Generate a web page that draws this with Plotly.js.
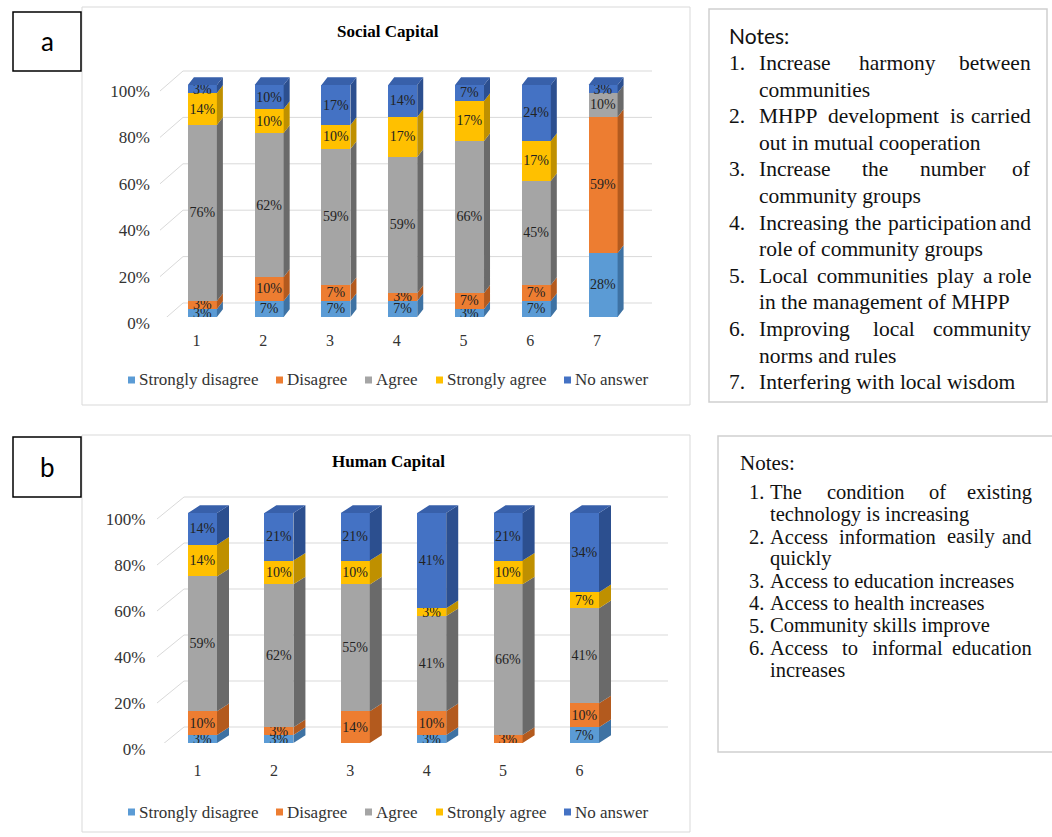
<!DOCTYPE html>
<html><head><meta charset="utf-8">
<script src="https://cdn.plot.ly/plotly-3.0.1.min.js"></script>
<style>html,body{margin:0;padding:0;background:#fff}#chart{width:1052px;height:837px}</style>
</head><body><div id="chart"></div>
<script>
// ---------------- DATA ----------------
const seriesNames = ['Strongly disagree', 'Disagree', 'Agree', 'Strongly agree', 'No answer'];
const yTickVals = [0, 20, 40, 60, 80, 100];
const yTickText = ['0%', '20%', '40%', '60%', '80%', '100%'];

const socialTitle = 'Social Capital';
const socialCats = [1, 2, 3, 4, 5, 6, 7];
const socialSD = [3.45, 6.90, 6.90, 6.90, 3.45, 6.90, 27.59];
const socialD  = [3.45, 10.34, 6.90, 3.45, 6.90, 6.90, 58.62];
const socialA  = [75.86, 62.07, 58.62, 58.62, 65.52, 44.83, 10.34];
const socialSA = [13.79, 10.34, 10.34, 17.24, 17.24, 17.24, 0];
const socialNA = [3.45, 10.34, 17.24, 13.79, 6.90, 24.14, 3.45];

const humanTitle = 'Human Capital';
const humanCats = [1, 2, 3, 4, 5, 6];
const humanSD = [3.45, 3.45, 0, 3.45, 0, 6.90];
const humanD  = [10.34, 3.45, 13.79, 10.34, 3.45, 10.34];
const humanA  = [58.62, 62.07, 55.17, 41.38, 65.52, 41.38];
const humanSA = [13.79, 10.34, 10.34, 3.45, 10.34, 6.90];
const humanNA = [13.79, 20.69, 20.69, 41.38, 20.69, 34.48];

// each note: number, first line, continuation line (or null)
const socialNotes = [
  ['1.', 'Increase harmony between', 'communities'],
  ['2.', 'MHPP development is carried', 'out in mutual cooperation'],
  ['3.', 'Increase the number of', 'community groups'],
  ['4.', 'Increasing the participation and', 'role of community groups'],
  ['5.', 'Local communities play a role', 'in the management of MHPP'],
  ['6.', 'Improving local community', 'norms and rules'],
  ['7.', 'Interfering with local wisdom', null]
];
const humanNotes = [
  ['1.', 'The condition of existing', 'technology is increasing'],
  ['2.', 'Access information easily and', 'quickly'],
  ['3.', 'Access to education increases', null],
  ['4.', 'Access to health increases', null],
  ['5.', 'Community skills improve', null],
  ['6.', 'Access to informal education', 'increases']
];

// ---------------- STYLE ----------------
const W = 1052, H = 837;
const px = x => x / W;
const py = y => 1 - y / H;
const SERIF = 'Liberation Serif, Times New Roman, serif';
const frontCol = ['#5B9BD5', '#ED7D31', '#A5A5A5', '#FFC000', '#4472C4'];
const sideCol  = ['#3E72A3', '#B35A1E', '#6A6A6A', '#BF9000', '#2C4F8F'];
const topCol   = ['#4A86BE', '#D06A26', '#8C8C8C', '#DDA600', '#3860AA'];

const panels = [
  {title: socialTitle, cats: socialCats, vals: [socialSD, socialD, socialA, socialSA, socialNA],
   xa: 'x', ya: 'y', left: 169, right: 636.5, y0px: 317, y100px: 85, barW: 0.434, sidePx: 6, topPx: 7.7,
   gridFrontX: 160, gridBackX: 183, gridRight: 652, gridDown: 6, gridUp: 14, titleY: 32,
   xShift: -6, xStand: 12, legendY: 380},
  {title: humanTitle, cats: humanCats, vals: [humanSD, humanD, humanA, humanSA, humanNA],
   xa: 'x2', ya: 'y2', left: 164.3, right: 622.7, y0px: 743, y100px: 513, barW: 0.38, sidePx: 12, topPx: 7.7,
   gridFrontX: 157, gridBackX: 184, gridRight: 668, gridDown: 6, gridUp: 16, titleY: 461,
   xShift: -5, xStand: 16, legendY: 812}
];

const traces = [];
const shapes = [];
const annotations = [];
const layout = {
  width: W, height: H, margin: {l: 0, r: 0, t: 0, b: 0},
  paper_bgcolor: '#fff', plot_bgcolor: 'rgba(0,0,0,0)',
  barmode: 'stack', bargap: 0, showlegend: false,
  font: {family: SERIF, color: '#333'},
  shapes: shapes, annotations: annotations
};

panels.forEach((p, pi) => {
  const n = p.cats.length;
  const ppuY = (p.y0px - p.y100px) / 100;
  const yMax = 110;
  const dx = p.sidePx * n / (p.right - p.left);
  const dy = p.topPx / ppuY;
  const axX = pi === 0 ? 'xaxis' : 'xaxis2';
  const axY = pi === 0 ? 'yaxis' : 'yaxis2';
  layout[axX] = {
    domain: [px(p.left), px(p.right)], range: [0.5, n + 0.5], anchor: p.ya,
    showgrid: false, zeroline: false, showline: false, ticks: '',
    tickvals: p.cats, ticktext: p.cats.map(String),
    tickfont: {family: SERIF, size: 16, color: '#333'},
    ticklabelshift: p.xShift, ticklabelstandoff: p.xStand, fixedrange: true
  };
  layout[axY] = {
    domain: [py(p.y0px), py(p.y0px - yMax * ppuY)], range: [0, yMax], anchor: p.xa,
    showgrid: false, zeroline: false, showline: false, ticks: '',
    tickvals: yTickVals, ticktext: yTickText,
    tickfont: {family: SERIF, size: 17, color: '#333'},
    ticklabelshift: p.gridDown, ticklabelstandoff: 18, fixedrange: true
  };

  // front faces (stacked bars)
  p.vals.forEach((v, si) => {
    traces.push({
      type: 'bar', x: p.cats, y: v, xaxis: p.xa, yaxis: p.ya, name: seriesNames[si],
      width: p.barW, marker: {color: frontCol[si], line: {width: 0}},
      text: v.map(d => d > 0 ? Math.round(d) + '%' : ''),
      textposition: 'inside', insidetextanchor: 'middle', textangle: 0,
      constraintext: 'none', textfont: {family: SERIF, size: 14, color: '#222'},
      hoverinfo: 'skip', showlegend: false
    });
  });

  // side faces and top faces (pseudo 3D)
  const base = p.cats.map(() => 0);
  p.vals.forEach((v, si) => {
    const xs = [], ys = [];
    p.cats.forEach((c, i) => {
      if (v[i] <= 0) return;
      const xr = c + p.barW / 2, b = base[i], t = base[i] + v[i];
      xs.push(xr, xr + dx, xr + dx, xr, xr, null);
      ys.push(b, b + dy, t + dy, t, b, null);
      base[i] = t;
    });
    traces.push({type: 'scatter', mode: 'lines', x: xs, y: ys, xaxis: p.xa, yaxis: p.ya,
      fill: 'toself', fillcolor: sideCol[si], line: {width: 0, color: sideCol[si]},
      hoverinfo: 'skip', showlegend: false});
  });
  const txs = [], tys = [];
  p.cats.forEach((c, i) => {
    const xl = c - p.barW / 2, xr = c + p.barW / 2, t = base[i];
    txs.push(xl, xl + dx, xr + dx, xr, xl, null);
    tys.push(t, t + dy, t + dy, t, t, null);
  });
  traces.push({type: 'scatter', mode: 'lines', x: txs, y: tys, xaxis: p.xa, yaxis: p.ya,
    fill: 'toself', fillcolor: topCol[4], line: {width: 0, color: topCol[4]},
    hoverinfo: 'skip', showlegend: false});

  // back-wall gridlines and floor diagonals
  yTickVals.forEach(v => {
    shapes.push({type: 'line', layer: 'below', xref: 'paper', yref: p.ya, ysizemode: 'pixel', yanchor: v,
      x0: px(p.gridBackX), x1: px(p.gridRight), y0: p.gridUp, y1: p.gridUp,
      line: {color: '#d9d9d9', width: 1}});
    shapes.push({type: 'line', layer: 'below', xref: 'paper', yref: p.ya, ysizemode: 'pixel', yanchor: v,
      x0: px(p.gridFrontX), x1: px(p.gridBackX), y0: -p.gridDown, y1: p.gridUp,
      line: {color: '#d9d9d9', width: 1}});
  });

  // title
  annotations.push({xref: 'paper', yref: 'paper', x: px(388), y: py(p.titleY), xanchor: 'center', yanchor: 'middle',
    showarrow: false, text: '<b>' + p.title + '</b>', font: {family: SERIF, size: 17, color: '#000'}});

  // legend (manual, compact like the original)
  const legX = [128, 276, 365, 436, 564];
  seriesNames.forEach((nm, si) => {
    shapes.push({type: 'rect', xref: 'paper', yref: 'paper', x0: px(legX[si]), x1: px(legX[si] + 7),
      y0: py(p.legendY + 3.5), y1: py(p.legendY - 3.5), fillcolor: frontCol[si], line: {width: 0}});
    annotations.push({xref: 'paper', yref: 'paper', x: px(legX[si] + 9), y: py(p.legendY), xanchor: 'left', yanchor: 'middle',
      showarrow: false, text: nm, font: {family: SERIF, size: 17, color: '#333'}});
  });
});

// boxes
function rect(x0, y0, x1, y1, col, w) {
  shapes.push({type: 'rect', layer: 'below', xref: 'paper', yref: 'paper', x0: px(x0), x1: px(x1), y0: py(y1), y1: py(y0),
    line: {color: col, width: w}, fillcolor: 'rgba(0,0,0,0)'});
}
rect(82, 7, 690, 405, '#d9d9d9', 1);
rect(82, 435, 690, 832, '#d9d9d9', 1);
rect(709, 9, 1047, 402, '#cfcfcf', 1.5);
rect(718, 436, 1062, 752, '#cfcfcf', 1.5);
rect(13, 12, 81, 71, '#000', 1.5);
rect(13, 437, 81, 497, '#000', 1.5);
function txt(x, y, s, anchor, font) {
  annotations.push({xref: 'paper', yref: 'paper', x: px(x), y: py(y), xanchor: anchor, yanchor: 'middle',
    showarrow: false, text: s, font: font});
}
txt(47, 41, 'a', 'center', {family: 'Lato, Open Sans, sans-serif', size: 26, color: '#000'});
txt(47, 467, 'b', 'center', {family: 'Lato, Open Sans, sans-serif', size: 26, color: '#000'});

// notes with justified first lines (like the word-processor original)
const ctx = document.createElement('canvas').getContext('2d');
function justify(line, x0, x1, y, font) {
  ctx.font = font.size + 'px "Liberation Serif"';
  const words = line.split(' ');
  const widths = words.map(w => ctx.measureText(w).width);
  const total = widths.reduce((a, b) => a + b, 0);
  const gap = (x1 - x0 - total) / (words.length - 1);
  let x = x0;
  words.forEach((w, j) => {
    if (j === words.length - 1) txt(x1, y, w, 'right', font);
    else txt(x, y, w, 'left', font);
    x += widths[j] + gap;
  });
}
function notes(list, numX, textX, rightX, y0, step, font) {
  let y = y0;
  list.forEach(item => {
    txt(numX, y, item[0], 'left', font);
    if (item[2]) justify(item[1], textX, rightX, y, font);
    else txt(textX, y, item[1], 'left', font);
    y += step;
    if (item[2]) { txt(textX, y, item[2], 'left', font); y += step; }
  });
}
txt(727, 36, 'Notes:', 'left', {family: 'Lato, Open Sans, sans-serif', size: 21, color: '#111'});
notes(socialNotes, 727, 757, 1033, 63, 26.6, {family: SERIF, size: 21.5, color: '#111'});
txt(738, 463, 'Notes:', 'left', {family: SERIF, size: 21, color: '#111'});
notes(humanNotes, 747, 768, 1034, 492, 22.3, {family: SERIF, size: 20.5, color: '#111'});

Plotly.newPlot('chart', traces, layout, {staticPlot: true, displayModeBar: false});
</script>
</body></html>
